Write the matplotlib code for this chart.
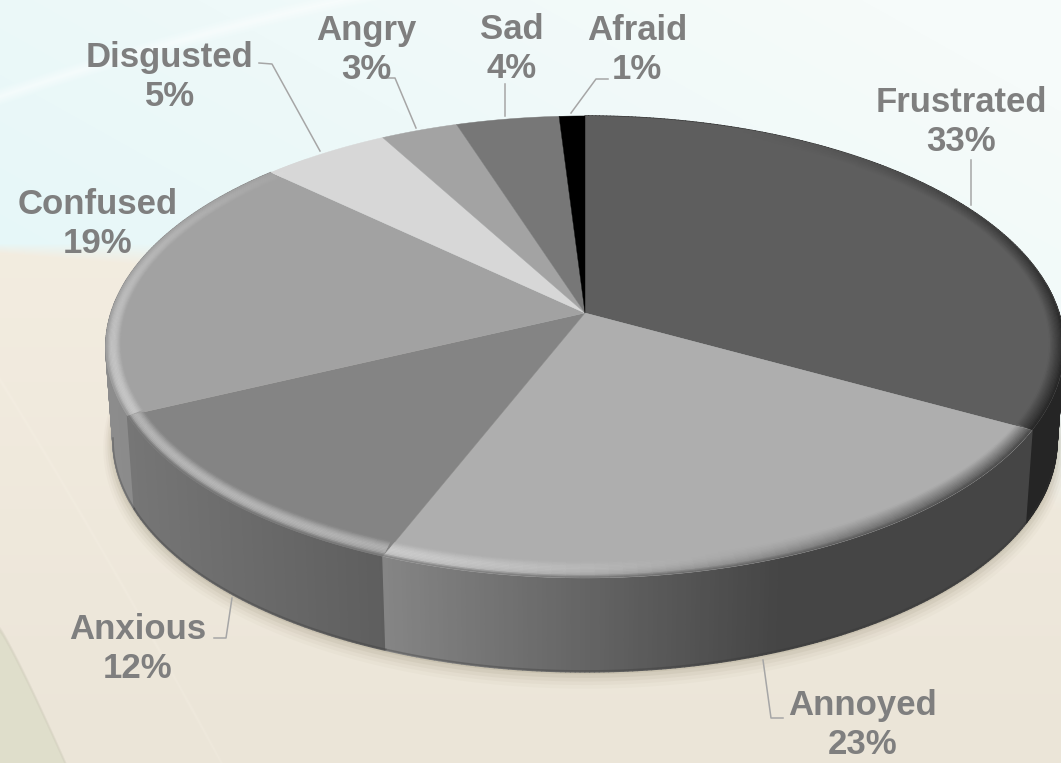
import numpy as np
import matplotlib
matplotlib.use("Agg")
import matplotlib.pyplot as plt
from matplotlib.colors import to_rgb
from matplotlib.patches import Polygon
from matplotlib.collections import PolyCollection

categories = ["Frustrated", "Annoyed", "Anxious", "Confused", "Disgusted", "Angry", "Sad", "Afraid"]
values = [33, 23, 12, 19, 5, 3, 4, 1]

face_colors = ["#5e5e5e", "#aeaeae", "#848484", "#a2a2a2", "#d7d7d7", "#a3a3a3", "#777777", "#000000"]
# wall gradient, left to right colour of each slice side
wall_colors = [("#252525", "#252525"), ("#858585", "#454545"), ("#767676", "#5e5e5e"), ("#8c8c8c", "#848484"),
               ("#999999", "#999999"), ("#888888", "#888888"), ("#666666", "#666666"), ("#000000", "#000000")]

# label centre, leader line
label_pos = [(961, 122), (863, 725), (138, 649), (98, 224), (170, 77), (366, 50), (512, 49), (637, 50)]
leaders = [[(971, 160), (971, 205)],
           [(763, 660), (771, 718), (783, 718)],
           [(232, 598), (226, 638), (214, 638)],
           [],
           [(259, 63), (272, 64), (320, 151)],
           [(382, 78), (395, 78), (416, 128)],
           [(505, 84), (505, 116)],
           [(608, 79), (596, 79), (571, 113)]]

CX, CY = 585, 313
RX, RY = 474, 226
K = 0.147    # perspective
DEPTH = 94
FOOT = 0.985  # bottom edge is a bit narrower


def project(angle, r=1.0):
    # angle is clockwise from 12 o'clock in degrees
    a = np.radians(angle)
    x = (1 - (1 - r) * 0.55) * np.sin(a)
    y = r * np.cos(a)
    s = 1 / (1 + K * y)
    return CX + RX * x * s, CY - RY * y * s


def rim(a0, a1, r=1.0):
    n = max(int(abs(a1 - a0)) + 2, 3)
    ang = np.linspace(a0, a1, n)
    return np.column_stack(project(ang, r))


def foot(pts):
    low = pts + [0, DEPTH]
    low[:, 0] = CX + (low[:, 0] - CX) * FOOT
    return low


def background():
    h, w = 763, 1061
    yy, xx = np.mgrid[0:h, 0:w]
    top = np.array(to_rgb("#e6f7f8"))
    white = np.array(to_rgb("#f6fbfa"))
    beige = np.array(to_rgb("#f7f0e4"))
    low = np.array(to_rgb("#ebe5d8"))
    t = np.clip(((xx / 1061) * 0.8 + (1 - yy / 260) * 0.35), 0, 1)[..., None]
    img = top * (1 - t) + white * t
    edge = 243 + np.clip(xx - 200, 0, None) * 0.2
    m = np.clip((yy - edge) / (10 + xx * 0.08), 0, 1)[..., None]
    v = (yy / 763)[..., None]
    img = img * (1 - m) + (beige * (1 - v) + low * v) * m
    # white swoosh at the top
    curve = 96 - 0.34 * xx + 0.00017 * xx ** 2
    d = np.clip(1 - np.abs(yy - curve) / 9, 0, 1)[..., None] * (xx < 470)[..., None]
    img = img * (1 - 0.5 * d) + np.array([1.0, 1.0, 1.0]) * 0.5 * d
    # faint arc in the beige part
    arc = 380 + xx * 1.62 + 0.0005 * xx ** 2
    f = np.clip(1 - np.abs(yy - arc) / 4, 0, 1)[..., None] * 0.15
    img = img * (1 - f) + np.array([1.0, 0.98, 0.94]) * f
    # green corner bottom left
    corner = 630 + (xx / 65.0) ** 1.1 * 133
    c = np.clip((yy - corner) / 1.5, 0, 1)[..., None]
    img = img * (1 - c) + np.array(to_rgb("#dfdecb")) * c
    line = np.clip(1 - np.abs(yy - corner) / 4, 0, 1)[..., None] * 0.5
    img = img * (1 - line) + np.array(to_rgb("#c8c5b3")) * line
    return img


fig = plt.figure(figsize=(10.61, 7.63), dpi=100)
ax = fig.add_axes([0, 0, 1, 1])
ax.set_xlim(0, 1061)
ax.set_ylim(763, 0)
ax.axis("off")
ax.imshow(background(), extent=(0, 1061, 763, 0), aspect="auto", zorder=0)

# slice angles from the values
total = float(sum(values))
edges = np.cumsum([0] + values) / total * 360

# soft shadow under the pie
bottom = foot(rim(80, 285))
for off, alpha in [(14, 0.05), (11, 0.07), (8, 0.10), (5, 0.14), (2, 0.2)]:
    ax.plot(bottom[:, 0], bottom[:, 1] + off * 0.5, color="#a39a82", lw=off, alpha=alpha,
            solid_capstyle="round", zorder=1)

# side walls, small quads so the silhouette stays closed
for i in [3, 0, 2, 1]:
    n = max(int((edges[i + 1] - edges[i]) / 0.5), 2)
    ang = np.linspace(edges[i], edges[i + 1], n + 1)
    x_all = np.array(project(ang))[0]
    x0, x1 = x_all.min(), x_all.max()
    # annoyed side stops getting darker around x=780
    span = 780 - x0 if i == 1 else max(x1 - x0, 1)
    left = np.array(to_rgb(wall_colors[i][0]))
    right = np.array(to_rgb(wall_colors[i][1]))
    wall_quads, wall_cols = [], []
    for j in range(n):
        seg = np.column_stack(project(ang[j:j + 2]))
        wall_quads.append(np.vstack([seg, foot(seg)[::-1]]))
        t = np.clip((seg[:, 0].mean() - x0) / span, 0, 1)
        wall_cols.append(left * (1 - t) + right * t)
    ax.add_collection(PolyCollection(wall_quads, facecolors=wall_cols, edgecolors=wall_cols,
                                     linewidths=1.0, zorder=2))
    # dark foot of the wall, front part only
    a0 = max(edges[i], 105)
    a1 = min(edges[i + 1], 262)
    if a1 > a0:
        low = foot(rim(a0, a1))
        ax.plot(low[:, 0], low[:, 1] - 1, color="#333333", lw=1.2, alpha=0.3, zorder=2.5)

# top face with a bevel along the rim, light comes from lower left
bands = np.linspace(0.945, 1.0, 13)
for i in range(len(values)):
    pts = rim(edges[i], edges[i + 1])
    wedge = Polygon(np.vstack([[CX, CY], pts]), closed=True, fc=face_colors[i], ec=face_colors[i],
                    lw=0.3, zorder=3)
    ax.add_patch(wedge)
    face = np.array(to_rgb(face_colors[i]))
    wall = np.array(to_rgb(wall_colors[i][1]))
    n = max(int((edges[i + 1] - edges[i]) / 1.5), 2)
    ang = np.linspace(edges[i], edges[i + 1], n + 1)
    quads, cols = [], []
    for j in range(n):
        a0, a1 = ang[j], ang[j + 1]
        mid = 0.5 * (a0 + a1)
        light = 0.42 * max(0.0, np.cos(np.radians(mid - 230)))
        dark = max(0.0, np.cos(np.radians(mid - 110))) ** 1.5
        join = 0.5 * np.clip((275 - mid) / 30, 0, 1) if mid > 90 else 0.0
        if light + dark + join < 0.01:
            continue
        for b in range(len(bands) - 1):
            r0, r1 = bands[b], bands[b + 1]
            u = 0.5 * (r0 + r1 - 2 * bands[0]) / (1 - bands[0])
            c = face + (np.array([1.0, 1.0, 1.0]) - face) * light * np.sin(np.pi * u ** 1.1)
            c = c * (1 - dark * u) + wall * dark * u
            # soft join with the wall at the front
            w = np.clip((u - 0.8) / 0.2, 0, 1) * join
            c = c * (1 - w) + wall * w
            x0, y0 = project(a0, r0)
            x1, y1 = project(a1, r0)
            x2, y2 = project(a1, r1)
            x3, y3 = project(a0, r1)
            quads.append([(x0, y0), (x1, y1), (x2, y2), (x3, y3)])
            cols.append(c)
    if quads:
        bevel = PolyCollection(quads, facecolors=cols, edgecolors=cols, linewidths=0.3, zorder=4)
        ax.add_collection(bevel)
        bevel.set_clip_path(wedge)

# leader lines and labels
for i, name in enumerate(categories):
    if leaders[i]:
        p = np.array(leaders[i])
        ax.plot(p[:, 0], p[:, 1], color="#a6a6a6", lw=1.1, zorder=5)
    ax.text(label_pos[i][0], label_pos[i][1], "%s\n%d%%" % (name, values[i]), ha="center", va="center",
            family="Liberation Sans", weight="bold", fontsize=25, color="#7f7f7f", linespacing=1.25, zorder=6)

fig.savefig("out.png", dpi=100)
